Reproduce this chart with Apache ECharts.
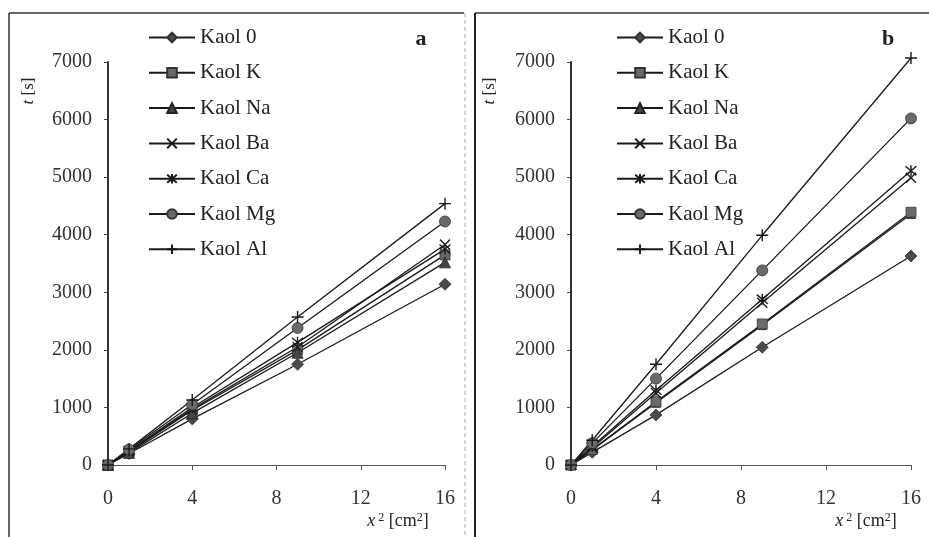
<!DOCTYPE html>
<html>
<head>
<meta charset="utf-8">
<script src="https://cdn.jsdelivr.net/npm/echarts@6/dist/echarts.min.js"></script>
<style>
html,body{margin:0;padding:0;background:#fff;}
#chart{width:929px;height:537px;}
</style>
</head>
<body>
<div id="chart"></div>
<script>
// ---- data ----
const xValues = [0, 1, 4, 9, 16];
const seriesNames = ['Kaol 0', 'Kaol K', 'Kaol Na', 'Kaol Ba', 'Kaol Ca', 'Kaol Mg', 'Kaol Al'];
const xTicks = [0, 4, 8, 12, 16];
const yTicks = [0, 1000, 2000, 3000, 4000, 5000, 6000, 7000];

// panel a
const aKaol0 = [0, 200, 800, 1750, 3140];
const aKaolK = [0, 230, 950, 2000, 3650];
const aKaolNa = [0, 210, 900, 1950, 3520];
const aKaolBa = [0, 240, 970, 2050, 3830];
const aKaolCa = [0, 250, 1000, 2130, 3750];
const aKaolMg = [0, 270, 1050, 2380, 4230];
const aKaolAl = [0, 280, 1130, 2570, 4540];

// panel b
const bKaol0 = [0, 220, 870, 2045, 3630];
const bKaolK = [0, 270, 1100, 2450, 4390];
const bKaolNa = [0, 260, 1080, 2430, 4360];
const bKaolBa = [0, 300, 1250, 2820, 4990];
const bKaolCa = [0, 320, 1300, 2880, 5110];
const bKaolMg = [0, 380, 1500, 3380, 6020];
const bKaolAl = [0, 430, 1750, 3990, 7070];

const panelA = [aKaol0, aKaolK, aKaolNa, aKaolBa, aKaolCa, aKaolMg, aKaolAl];
const panelB = [bKaol0, bKaolK, bKaolNa, bKaolBa, bKaolCa, bKaolMg, bKaolAl];

// ---- styles ----
const FONT = '"Liberation Serif", "DejaVu Serif", serif';
const INK = '#1a1a1a';
const markerStyles = [
  {symbol: 'diamond', size: 12, item: {color: '#4a4a4a', borderColor: '#333', borderWidth: 0.8}},
  {symbol: 'rect', size: 10, item: {color: '#6a6a6a', borderColor: '#333', borderWidth: 0.8}},
  {symbol: 'triangle', size: 11, item: {color: '#444', borderColor: '#222', borderWidth: 0.8}},
  {symbol: 'path://M0,0L10,10M10,0L0,10', size: 10, item: {color: 'rgba(0,0,0,0)', borderColor: INK, borderWidth: 1.4}},
  {symbol: 'path://M0,0L10,10M10,0L0,10M5,-1L5,11', size: 11, item: {color: 'rgba(0,0,0,0)', borderColor: INK, borderWidth: 1.4}},
  {symbol: 'circle', size: 11, item: {color: '#6a6a6a', borderColor: '#333', borderWidth: 0.8}},
  {symbol: 'path://M5,0L5,10M0,5L10,5', size: 12, item: {color: 'rgba(0,0,0,0)', borderColor: INK, borderWidth: 1.4}}
];

function makeSeries(panel, idx, lowIdx) {
  return panel.map((vals, i) => ({
    name: seriesNames[i],
    type: 'line',
    xAxisIndex: idx,
    yAxisIndex: idx,
    z: i === lowIdx ? 1 : 2,
    data: xValues.map((x, j) => [x, vals[j]]),
    symbol: markerStyles[i].symbol,
    symbolSize: i === lowIdx ? 9 : markerStyles[i].size,
    showAllSymbol: true,
    clip: false,
    lineStyle: {color: INK, width: 1.3},
    itemStyle: markerStyles[i].item,
    emphasis: {disabled: true},
    animation: false
  }));
}

function makeX(idx) {
  return {
    type: 'value', gridIndex: idx,
    min: xTicks[0], max: xTicks[xTicks.length - 1], interval: xTicks[1] - xTicks[0],
    axisLine: {lineStyle: {color: '#555', width: 1}},
    axisTick: {show: true, inside: false, length: 5, lineStyle: {color: '#555'}},
    axisLabel: {fontFamily: FONT, fontSize: 20, color: '#333', margin: 24, formatter: v => String(v)},
    splitLine: {show: false}
  };
}
function makeY(idx) {
  return {
    type: 'value', gridIndex: idx,
    min: yTicks[0], max: yTicks[yTicks.length - 1], interval: yTicks[1] - yTicks[0],
    axisLine: {show: true, lineStyle: {color: '#333', width: 2}},
    axisTick: {show: true, inside: false, length: 4, lineStyle: {color: '#444'}},
    axisLabel: {fontFamily: FONT, fontSize: 20, color: '#333', margin: 16, formatter: v => String(v)},
    splitLine: {show: false}
  };
}

function makeLegend(left) {
  return {
    data: seriesNames,
    orient: 'vertical',
    left: left, top: 27,
    padding: 0,
    itemWidth: 46, itemHeight: 12, itemGap: 14.3,
    selectedMode: false,
    textStyle: {fontFamily: FONT, fontSize: 21, color: '#222', lineHeight: 21}
  };
}

const subTitle = {
  font: '18px ' + FONT, fill: '#222', textAlign: 'center', textVerticalAlign: 'middle',
  text: '{i|x}{s| 2} [cm{s|2}]',
  rich: {
    i: {fontStyle: 'italic', fontFamily: FONT, fontSize: 18},
    s: {fontSize: 12, fontFamily: FONT, verticalAlign: 'top'}
  }
};
const yTitle = {
  text: '{i|t} [s]', font: '17px ' + FONT, fill: '#222', textAlign: 'center', textVerticalAlign: 'middle',
  rich: {i: {fontStyle: 'italic', fontFamily: FONT, fontSize: 17}}
};

const chart = echarts.init(document.getElementById('chart'), null, {renderer: 'canvas'});
chart.setOption({
  backgroundColor: '#fff',
  animation: false,
  grid: [
    {left: 108, top: 62, width: 337, height: 403},
    {left: 571, top: 62, width: 340, height: 403}
  ],
  xAxis: [makeX(0), makeX(1)],
  yAxis: [makeY(0), makeY(1)],
  legend: [makeLegend(148), makeLegend(616)],
  series: makeSeries(panelA, 0, -1).concat(makeSeries(panelB, 1, 2)),
  graphic: [
    // panel frames
    {type: 'line', shape: {x1: 9, y1: 13, x2: 9, y2: 537}, style: {stroke: '#333', lineWidth: 1.5}},
    {type: 'line', shape: {x1: 9, y1: 13, x2: 464, y2: 13}, style: {stroke: '#333', lineWidth: 1.5}},
    {type: 'line', shape: {x1: 465, y1: 13, x2: 465, y2: 537}, style: {stroke: '#aaa', lineWidth: 1, lineDash: [4, 3]}},
    {type: 'line', shape: {x1: 475, y1: 13, x2: 475, y2: 537}, style: {stroke: '#222', lineWidth: 2}},
    {type: 'line', shape: {x1: 475, y1: 13, x2: 929, y2: 13}, style: {stroke: '#333', lineWidth: 1.5}},
    // panel letters
    {type: 'text', x: 421, y: 39, style: {text: 'a', font: 'bold 22px ' + FONT, fill: '#222', textAlign: 'center', textVerticalAlign: 'middle'}},
    {type: 'text', x: 888, y: 39, style: {text: 'b', font: 'bold 22px ' + FONT, fill: '#222', textAlign: 'center', textVerticalAlign: 'middle'}},
    // y titles
    {type: 'text', x: 29, y: 91, rotation: Math.PI / 2, style: Object.assign({}, yTitle)},
    {type: 'text', x: 490, y: 91, rotation: Math.PI / 2, style: Object.assign({}, yTitle)},
    // x titles
    {type: 'text', x: 398, y: 521, style: Object.assign({}, subTitle)},
    {type: 'text', x: 866, y: 521, style: Object.assign({}, subTitle)}
  ]
});
</script>
</body>
</html>
